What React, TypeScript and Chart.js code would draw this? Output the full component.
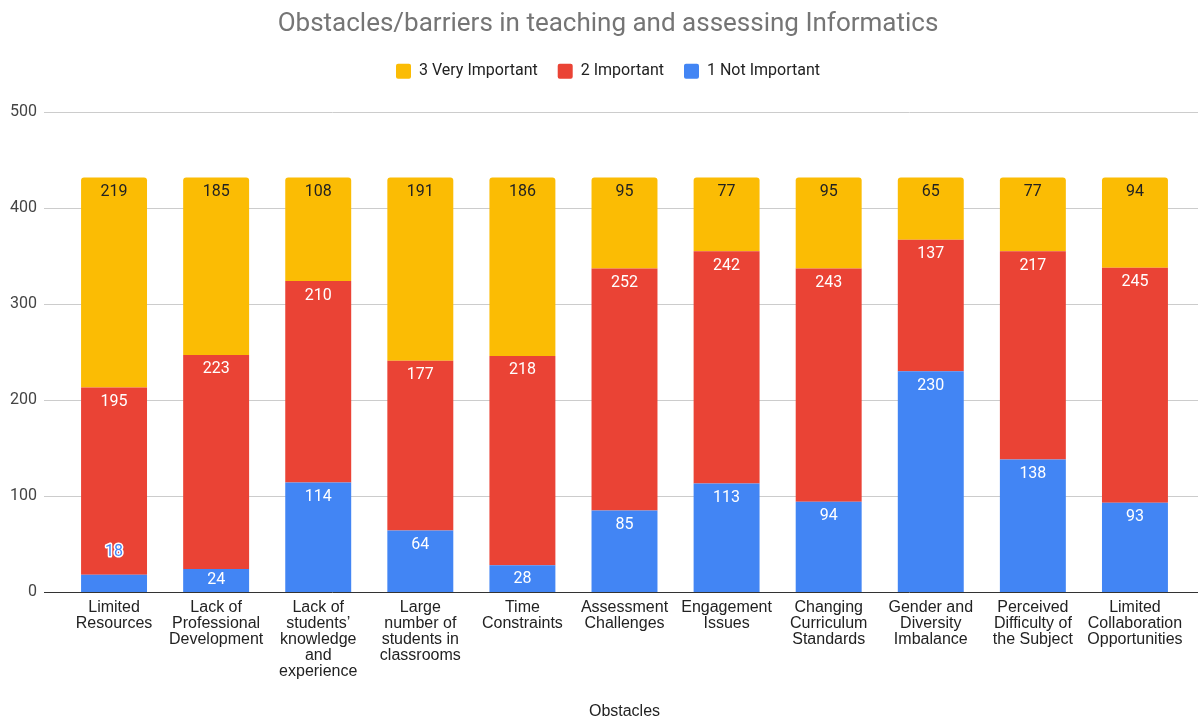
import React, { useEffect, useRef } from 'react';
import { Chart, registerables } from 'chart.js';

Chart.register(...registerables);

const categories: string[][] = [
  ['Limited', 'Resources'],
  ['Lack of', 'Professional', 'Development'],
  ['Lack of', 'students’', 'knowledge', 'and', 'experience'],
  ['Large', 'number of', 'students in', 'classrooms'],
  ['Time', 'Constraints'],
  ['Assessment', 'Challenges'],
  ['Engagement', 'Issues'],
  ['Changing', 'Curriculum', 'Standards'],
  ['Gender and', 'Diversity', 'Imbalance'],
  ['Perceived', 'Difficulty of', 'the Subject'],
  ['Limited', 'Collaboration', 'Opportunities'],
];

const notImportant = [18, 24, 114, 64, 28, 85, 113, 94, 230, 138, 93];
const important = [195, 223, 210, 177, 218, 252, 242, 243, 137, 217, 245];
const veryImportant = [219, 185, 108, 191, 186, 95, 77, 95, 65, 77, 94];

const seriesNames = ['1 Not Important', '2 Important', '3 Very Important'];
const seriesColors = ['#4285F4', '#EA4335', '#FBBC04'];
const labelColors = ['#ffffff', '#ffffff', '#222222'];

const yMin = 0;
const yMax = 500;
const yStep = 100;

const chartTitle = 'Obstacles/barriers in teaching and assessing Informatics';
const xTitle = 'Obstacles';

const ROBOTO = 'Roboto, "Noto Sans", sans-serif';
const ARIAL = '"Liberation Sans", Arial, sans-serif';

const gridPlugin = {
  id: 'customGrid',
  beforeDatasetsDraw(chart: any) {
    const y = chart.scales.y;
    const ctx = chart.ctx;
    const left = chart.chartArea.left - 19;
    ctx.save();
    ctx.strokeStyle = '#cccccc';
    ctx.lineWidth = 1;
    y.ticks.forEach((t: any) => {
      if (t.value === 0) return;
      const py = Math.round(y.getPixelForValue(t.value)) + 0.5;
      ctx.beginPath();
      ctx.moveTo(left, py);
      ctx.lineTo(chart.width, py);
      ctx.stroke();
    });
    ctx.restore();
  },
  afterDatasetsDraw(chart: any) {
    const y = chart.scales.y;
    const ctx = chart.ctx;
    const left = chart.chartArea.left - 19;
    const py = Math.round(y.getPixelForValue(0)) + 0.5;
    ctx.save();
    ctx.strokeStyle = '#333333';
    ctx.lineWidth = 1;
    ctx.beginPath();
    ctx.moveTo(left, py);
    ctx.lineTo(chart.width, py);
    ctx.stroke();
    ctx.restore();
  },
};

const labelPlugin = {
  id: 'segmentLabels',
  afterDatasetsDraw(chart: any) {
    const ctx = chart.ctx;
    ctx.save();
    ctx.font = `16px ${ROBOTO}`;
    ctx.textAlign = 'center';
    ctx.textBaseline = 'middle';
    chart.data.datasets.forEach((ds: any, di: number) => {
      const meta = chart.getDatasetMeta(di);
      meta.data.forEach((el: any, i: number) => {
        const v = ds.data[i];
        const p = el.getProps(['x', 'y', 'base'], true);
        const h = p.base - p.y;
        const txt = String(v);
        if (h < 20) {
          const ty = p.y - 23;
          ctx.lineWidth = 3;
          ctx.lineJoin = 'round';
          ctx.strokeStyle = '#ffffff';
          ctx.strokeText(txt, p.x, ty);
          ctx.fillStyle = seriesColors[di];
          ctx.fillText(txt, p.x, ty);
        } else {
          ctx.fillStyle = labelColors[di];
          ctx.fillText(txt, p.x, p.y + Math.min(14.5, h / 2));
        }
      });
    });
    ctx.restore();
  },
};

const legendMargin = {
  id: 'legendMargin',
  beforeInit(chart: any) {
    const legend = chart.legend;
    if (!legend) return;
    const orig = legend.fit;
    legend.fit = function () {
      orig.call(this);
      this.height += 23;
    };
  },
  afterLayout(chart: any) {
    // centre title and legend over the region Google Sheets uses
    if (chart.titleBlock) chart.titleBlock.left = 30;
    if (chart.legend) chart.legend.left = 30;
  },
};

export default function App() {
  const canvasRef = useRef<HTMLCanvasElement | null>(null);

  useEffect(() => {
    document.body.style.margin = '0';
    const canvas = canvasRef.current;
    if (!canvas) return;
    const series = [notImportant, important, veryImportant];
    const chart = new Chart(canvas, {
      type: 'bar',
      data: {
        labels: categories,
        datasets: series.map((d, i) => ({
          label: seriesNames[i],
          data: d,
          backgroundColor: seriesColors[i],
          borderWidth: 0,
          borderRadius: i === 2 ? 3 : 0,
          barPercentage: 0.646,
          categoryPercentage: 1,
        })),
      },
      options: {
        responsive: false,
        animation: false,
        layout: { padding: { left: 0, right: 12, top: 0, bottom: 0 } },
        plugins: {
          title: {
            display: true,
            text: chartTitle,
            color: '#757575',
            font: { family: ROBOTO, size: 26, weight: 'normal' },
            padding: { top: 9, bottom: 3 },
          },
          legend: {
            display: true,
            position: 'top',
            reverse: true,
            labels: {
              color: '#222222',
              font: { family: ROBOTO, size: 16 },
              boxWidth: 15,
              boxHeight: 15,
              padding: 20,
              useBorderRadius: true,
              borderRadius: 2,
            },
          },
          tooltip: { enabled: false },
        },
        scales: {
          x: {
            stacked: true,
            grid: { display: false, drawTicks: false },
            border: { display: false },
            ticks: {
              autoSkip: false,
              maxRotation: 0,
              minRotation: 0,
              padding: 8,
              color: '#222222',
              font: { family: ARIAL, size: 16, lineHeight: 1 },
            },
            title: {
              display: true,
              text: xTitle,
              color: '#222222',
              font: { family: ARIAL, size: 16, lineHeight: 1 },
              padding: { top: 0, bottom: 0.5 },
            },
            afterFit: (s: any) => {
              s.height = 128;
            },
          },
          y: {
            stacked: true,
            min: yMin,
            max: yMax,
            grid: { display: false, drawTicks: false },
            border: { display: false },
            ticks: {
              stepSize: yStep,
              padding: 26,
              color: '#444444',
              font: { family: ROBOTO, size: 16 },
            },
            afterFit: (s: any) => {
              s.width = 63;
            },
          },
        },
      },
      plugins: [legendMargin, gridPlugin, labelPlugin],
    } as any);
    return () => chart.destroy();
  }, []);

  return (
    <div style={{ width: 1198, height: 720 }}>
      <canvas ref={canvasRef} width={1198} height={720} style={{ display: 'block' }} />
    </div>
  );
}
